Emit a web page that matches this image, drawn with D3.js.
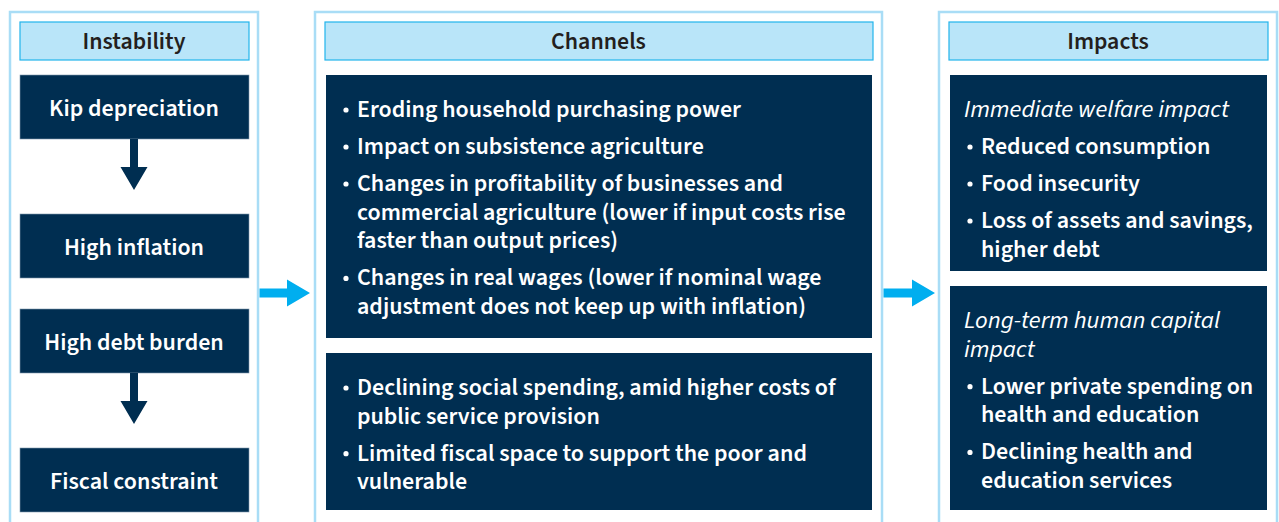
<!DOCTYPE html>
<html>
<head>
<meta charset="utf-8">
<script src="https://cdn.jsdelivr.net/npm/d3@7"></script>
<style>
    body { margin: 0; background: #fff; }
    svg { display: block; }
</style>
</head>
<body>
<script>
// data
const columnNames = ['Instability', 'Channels', 'Impacts']

const instability = ['Kip depreciation', 'High inflation', 'High debt burden', 'Fiscal constraint']
// arrow below these steps
const instabilityArrows = [true, false, true, false]

const channelGroups = [
    [
        ['Eroding household purchasing power'],
        ['Impact on subsistence agriculture'],
        ['Changes in profitability of businesses and', 'commercial agriculture (lower if input costs rise', 'faster than output prices)'],
        ['Changes in real wages (lower if nominal wage', 'adjustment does not keep up with inflation)']
    ],
    [
        ['Declining social spending, amid higher costs of', 'public service provision'],
        ['Limited fiscal space to support the poor and', 'vulnerable']
    ]
]

const impactTitles = [
    ['Immediate welfare impact'],
    ['Long-term human capital', 'impact']
]
const impactGroups = [
    [
        ['Reduced consumption'],
        ['Food insecurity'],
        ['Loss of assets and savings,', 'higher debt']
    ],
    [
        ['Lower private spending on', 'health and education'],
        ['Declining health and', 'education services']
    ]
]

// layout
const width = 1279
const height = 522
const navy = '#002e51'
const frameColor = '#a9ddf6'
const headFill = '#b9e5f9'
const headStroke = '#22b4ec'
const arrowBlue = '#00aeef'
const font = "'Source Sans Pro', 'Source Sans 3', Lato, 'Noto Sans', sans-serif"

const frames = [
    {x: 10, w: 248},
    {x: 315, w: 567},
    {x: 939, w: 338}
]
const pad = 10
const headTop = 22
const headH = 38
const bodyTop = 75
const lineStep = 28.7
const itemStep = 37

const svg = d3.select('body').append('svg')
    .attr('width', width)
    .attr('height', height)

// calibrate font size against the reference width of a known line
function fitSize(str, targetWidth, weight, style) {
    const t = svg.append('text')
        .attr('font-family', font)
        .attr('font-weight', weight)
        .attr('font-style', style || 'normal')
        .attr('font-size', 100)
        .text(str)
    const w = t.node().getComputedTextLength()
    t.remove()
    return 100 * targetWidth / w
}
const bodySize = fitSize('Eroding household purchasing power', 384, 600)
const headSize = fitSize('Instability', 103, 600)
const italicSize = fitSize('Immediate welfare impact', 265, 400, 'italic')

// frames and header bars
frames.forEach((f, i) => {
    svg.append('rect')
        .attr('x', f.x)
        .attr('y', 12)
        .attr('width', f.w)
        .attr('height', height + 20)
        .attr('fill', 'none')
        .attr('stroke', frameColor)
        .attr('stroke-width', 2.5)

    svg.append('rect')
        .attr('x', f.x + pad)
        .attr('y', headTop)
        .attr('width', f.w - 2 * pad + 1)
        .attr('height', headH)
        .attr('fill', headFill)
        .attr('stroke', headStroke)
        .attr('stroke-width', 1.2)

    svg.append('text')
        .attr('x', f.x + f.w / 2)
        .attr('y', headTop + headH / 2 + headSize * 0.34)
        .attr('text-anchor', 'middle')
        .attr('font-family', font)
        .attr('font-weight', 600)
        .attr('font-size', headSize)
        .attr('fill', '#231f20')
        .text(columnNames[i])
})

// column 1: instability steps
const stepH = 64
let y = bodyTop
const c1 = frames[0]
instability.forEach((name, i) => {
    svg.append('rect')
        .attr('x', c1.x + pad)
        .attr('y', y)
        .attr('width', c1.w - 2 * pad + 1)
        .attr('height', stepH)
        .attr('fill', navy)
        .attr('stroke', '#7f98ad')
        .attr('stroke-width', 0.6)

    svg.append('text')
        .attr('x', c1.x + c1.w / 2)
        .attr('y', y + stepH / 2 + bodySize * 0.38)
        .attr('text-anchor', 'middle')
        .attr('font-family', font)
        .attr('font-weight', 600)
        .attr('font-size', bodySize)
        .attr('fill', '#fff')
        .text(name)

    const bottom = y + stepH
    if (instabilityArrows[i]) {
        const cx = c1.x + c1.w / 2
        const p = d3.path()
        p.moveTo(cx - 4, bottom)
        p.lineTo(cx + 4, bottom)
        p.lineTo(cx + 4, bottom + 28)
        p.lineTo(cx + 13.5, bottom + 28)
        p.lineTo(cx, bottom + 51)
        p.lineTo(cx - 13.5, bottom + 28)
        p.lineTo(cx - 4, bottom + 28)
        p.closePath()
        svg.append('path').attr('d', p.toString()).attr('fill', navy)
        y = bottom + 75
    } else {
        y = bottom + 31
    }
})

// blue arrows between columns
function blueArrow(x0, x1, cy) {
    const p = d3.path()
    p.moveTo(x0, cy - 4.5)
    p.lineTo(x1 - 23, cy - 4.5)
    p.lineTo(x1 - 23, cy - 13.5)
    p.lineTo(x1, cy)
    p.lineTo(x1 - 23, cy + 13.5)
    p.lineTo(x1 - 23, cy + 4.5)
    p.lineTo(x0, cy + 4.5)
    p.closePath()
    svg.append('path').attr('d', p.toString()).attr('fill', arrowBlue)
}
blueArrow(frames[0].x + frames[0].w + 1.5, frames[1].x - 5, 293)
blueArrow(frames[1].x + frames[1].w + 1.5, frames[2].x - 4, 293)

// bullet box helper
function drawBox(frame, top, bottom, title, items) {
    svg.append('rect')
        .attr('x', frame.x + pad + 1)
        .attr('y', top)
        .attr('width', frame.w - 2 * pad - 1)
        .attr('height', bottom - top)
        .attr('fill', navy)

    const xText = frame.x + pad + 32
    let base = top + 42
    let first = true
    if (title) {
        title.forEach((line, j) => {
            if (j > 0) base += lineStep
            svg.append('text')
                .attr('x', frame.x + pad + 15)
                .attr('y', base)
                .attr('font-family', font)
                .attr('font-style', 'italic')
                .attr('font-weight', 400)
                .attr('font-size', italicSize)
                .attr('fill', '#fff')
                .text(line)
        })
        first = false
    }
    items.forEach(item => {
        if (!first) base += itemStep
        first = false
        svg.append('circle')
            .attr('cx', xText - 11)
            .attr('cy', base - 7)
            .attr('r', 2.6)
            .attr('fill', '#fff')
        item.forEach((line, j) => {
            if (j > 0) base += lineStep
            svg.append('text')
                .attr('x', xText)
                .attr('y', base)
                .attr('font-family', font)
                .attr('font-weight', 600)
                .attr('font-size', bodySize)
                .attr('fill', '#fff')
                .text(line)
        })
    })
}

// column 2: channels
drawBox(frames[1], bodyTop, 338, null, channelGroups[0])
drawBox(frames[1], 353, 510, null, channelGroups[1])

// column 3: impacts
drawBox(frames[2], bodyTop, 271, impactTitles[0], impactGroups[0])
drawBox(frames[2], 286, 510, impactTitles[1], impactGroups[1])
</script>
</body>
</html>
